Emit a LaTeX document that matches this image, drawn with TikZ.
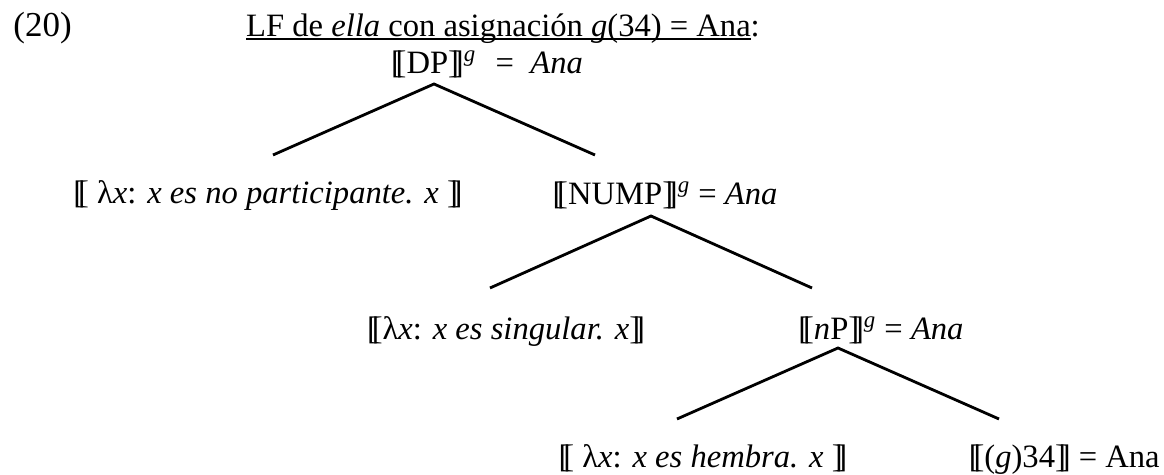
\documentclass[tikz,border=0pt]{standalone}
\usepackage{fontspec}
\setmainfont{Liberation Serif}
\newcommand{\lbk}{[\kern-0.19em[}
\newcommand{\rbk}{]\kern-0.19em]}
\newcommand{\supg}{\textsuperscript{\itshape g}}
\newcommand{\undl}[1]{\setbox0\hbox{#1}\rlap{\rule[-1.6pt]{\wd0}{0.9pt}}\box0}
\begin{document}
\begin{tikzpicture}[x=0.5pt,y=-0.5pt,
  txt/.style={anchor=base, inner sep=0pt, font=\fontsize{16.3}{19}\selectfont},
  branch/.style={line width=1.4pt, line cap=butt, line join=miter}]
\useasboundingbox (0,0) rectangle (1164,475);
\node[txt, anchor=base west, font=\fontsize{17.5}{21}\selectfont] (num) at (13,37) {(20)};
\node[txt] (title) at (503,37) {\undl{LF de \textit{ella} con asignación \textit{g}(34) = Ana}:};
\node[txt] (dp) at (487,74) {\lbk DP\rbk\supg\hspace{0.6em}=\hspace{0.5em}\textit{Ana}};
\node[txt] (lam1) at (268,204) {\lbk\ λ\textit{x}: \textit{x es no participante. x} \rbk};
\node[txt] (nump) at (665,205) {\lbk NUMP\rbk\supg\ = \textit{Ana}};
\node[txt] (lam2) at (506,340) {\lbk λ\textit{x}: \textit{x es singular. x}\rbk};
\node[txt] (np) at (881,340) {\lbk\textit{n}P\rbk\supg\ = \textit{Ana}};
\node[txt] (lam3) at (703,468) {\lbk\ λ\textit{x}: \textit{x es hembra. x} \rbk};
\node[txt, anchor=base east] (g34) at (1160,468) {\lbk(\textit{g})34\rbk\ = Ana};
\coordinate (a1) at (434,84);
\coordinate (a1l) at (273,155);
\coordinate (a1r) at (595,155);
\coordinate (a2) at (651,216);
\coordinate (a2l) at (490,288);
\coordinate (a2r) at (812,288);
\coordinate (a3) at (838,348);
\coordinate (a3l) at (677,419);
\coordinate (a3r) at (999,419);
\draw[branch] (a1l) -- (a1) -- (a1r);
\draw[branch] (a2l) -- (a2) -- (a2r);
\draw[branch] (a3l) -- (a3) -- (a3r);
\end{tikzpicture}
\end{document}
